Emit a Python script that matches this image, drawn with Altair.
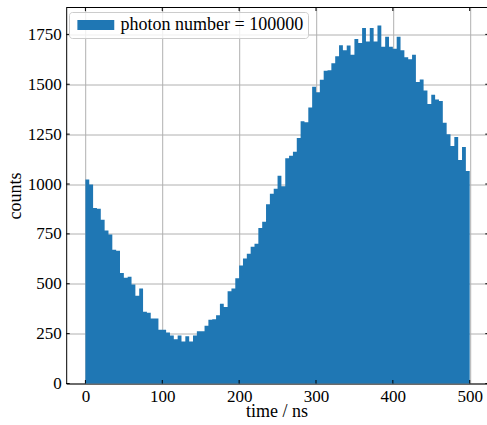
import altair as alt
import pandas as pd

# ---- data (100 bins of 5 ns) ----
bin_width = 5
counts = [
    1022, 997, 880, 876, 821, 767, 747, 671, 666, 554,
    530, 535, 496, 440, 476, 360, 355, 326, 326, 270,
    270, 256, 240, 222, 240, 210, 237, 210, 240, 262,
    262, 290, 320, 322, 342, 400, 383, 462, 476, 527,
    592, 627, 651, 685, 700, 779, 811, 898, 951, 976,
    1042, 989, 1129, 1142, 1162, 1231, 1314, 1309, 1383, 1487,
    1460, 1523, 1568, 1570, 1605, 1640, 1695, 1670, 1694, 1648,
    1727, 1707, 1782, 1714, 1782, 1714, 1795, 1688, 1738, 1688,
    1678, 1738, 1671, 1636, 1625, 1648, 1511, 1524, 1469, 1401,
    1447, 1424, 1416, 1307, 1250, 1190, 1236, 1120, 1185, 1065,
]
bin_start = [i * bin_width for i in range(len(counts))]
x_ticks = [0, 100, 200, 300, 400, 500]
y_ticks = [0, 250, 500, 750, 1000, 1250, 1500, 1750]
legend_label = "photon number = 100000"
x_title = "time / ns"
y_title = "counts"

W = 420.8
H = 376
FONT = "Liberation Serif"
BLUE = "#1f77b4"

# step outline of the histogram: each bin's left edge, plus the closing right edge
edges = bin_start + [bin_start[-1] + bin_width]
heights = counts + [counts[-1]]
df = pd.DataFrame({
    "edge": edges,
    "count": heights,
    "series": [legend_label] * len(edges),
})

xscale = alt.Scale(domain=[-25, 522.5], nice=False, zero=False)
yscale = alt.Scale(domain=[0, max(counts) * 1.05], nice=False, zero=True)

x_axis = alt.Axis(values=x_ticks, title=x_title, grid=True,
                  labelFont=FONT, titleFont=FONT, labelFontSize=17, titleFontSize=18,
                  labelPadding=5, titlePadding=-2, format="d")
y_axis = alt.Axis(values=y_ticks, title=y_title, grid=True,
                  labelFont=FONT, titleFont=FONT, labelFontSize=17, titleFontSize=18,
                  labelPadding=5, titlePadding=3, format="d")

bars = alt.Chart(df).mark_area(interpolate="step-after", opacity=1, strokeWidth=0).encode(
    x=alt.X("edge:Q", scale=xscale, axis=x_axis),
    y=alt.Y("count:Q", scale=yscale, axis=y_axis),
    color=alt.Color(
        "series:N",
        scale=alt.Scale(domain=[legend_label], range=[BLUE]),
        legend=alt.Legend(
            title=None, orient="none", legendX=2.8, legendY=4.5,
            symbolType="M-1,-1.1L7,-1.1L7,1.1L-1,1.1Z", symbolSize=85,
            symbolStrokeWidth=0, symbolOpacity=1, labelLimit=0,
            labelOffset=29.5, labelFont=FONT, labelFontSize=18, labelColor="black",
            padding=4, fillColor="rgba(255,255,255,0.8)", strokeColor="#cccccc",
            cornerRadius=3,
        ),
    ),
)

xt = pd.DataFrame({"t": x_ticks})
yt = pd.DataFrame({"t": y_ticks})
tick_len = 3.5

bottom_ticks = alt.Chart(xt).mark_rule(color="black", strokeWidth=1).encode(
    x=alt.X("t:Q", scale=xscale, axis=x_axis),
    y=alt.value(H), y2=alt.value(H - tick_len))
top_ticks = alt.Chart(xt).mark_rule(color="black", strokeWidth=1).encode(
    x=alt.X("t:Q", scale=xscale, axis=x_axis),
    y=alt.value(0), y2=alt.value(tick_len))
left_ticks = alt.Chart(yt).mark_rule(color="black", strokeWidth=1).encode(
    y=alt.Y("t:Q", scale=yscale, axis=y_axis),
    x=alt.value(0), x2=alt.value(tick_len))
right_ticks = alt.Chart(yt).mark_rule(color="black", strokeWidth=1).encode(
    y=alt.Y("t:Q", scale=yscale, axis=y_axis),
    x=alt.value(W - 1.7), x2=alt.value(W))
top_line = alt.Chart(pd.DataFrame({"a": [0]})).mark_rule(color="black", strokeWidth=1).encode(
    x=alt.value(0), x2=alt.value(W), y=alt.value(0))

chart = alt.layer(bars, bottom_ticks, top_ticks, left_ticks, right_ticks, top_line).properties(
    width=W, height=H,
    padding={"left": 66.2, "top": 7.5, "right": 0, "bottom": 41.5},
    autosize=alt.AutoSizeParams(type="none"),
    background="white",
).configure_view(stroke=None).configure_axis(
    labelFont=FONT, titleFont=FONT, labelFontSize=17, titleFontSize=18,
    labelColor="black", titleColor="black", titleFontWeight="normal",
    gridColor="#b0b0b0", gridWidth=1, gridOpacity=1,
    domainColor="black", domainWidth=1, ticks=False, zindex=1,
)

chart.save("out.html", embed_options={"renderer": "svg", "actions": False})
